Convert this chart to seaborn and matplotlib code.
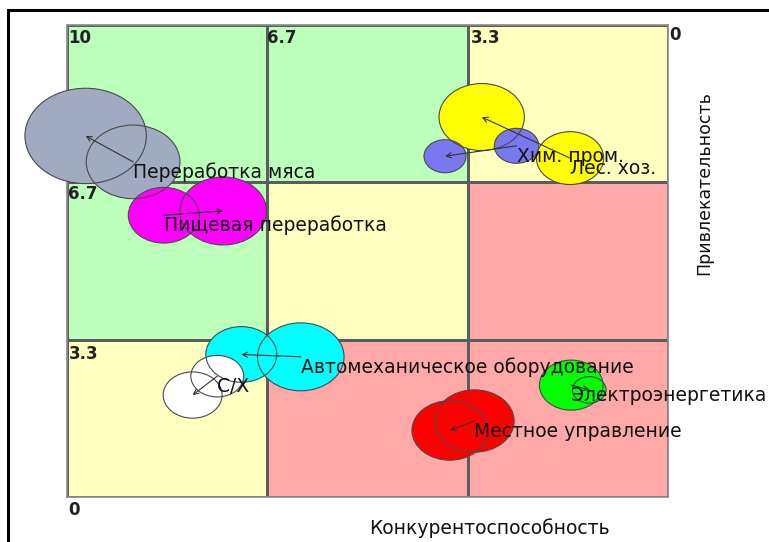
import numpy as np
import matplotlib
matplotlib.use('Agg')
import matplotlib.pyplot as plt
import seaborn as sns
from matplotlib.colors import ListedColormap
from matplotlib.patches import Ellipse, Rectangle

sns.set_style('white')
plt.rcParams['font.family'] = ['DejaVu Sans']

# zone grid (rows top->bottom, cols left->right): 0 = green, 1 = yellow, 2 = red
zones = [[0, 0, 1],
         [0, 1, 2],
         [1, 2, 2]]
zone_colors = ['#BBFFBB', '#FFFFC0', '#FFA8A8']

x_ticks = [10, 6.7, 3.3]
x_tick_labels = ['10', '6.7', '3.3']
y_ticks = [6.7, 3.3, 0]
y_tick_labels = ['6.7', '3.3', '0']

industries = ['Переработка мяса', 'Пищевая переработка', 'Лес. хоз.', 'Хим. пром.',
              'Автомеханическое оборудование', 'С/Х', 'Местное управление',
              'Электроэнергетика']
colors = ['#A0AAC0', '#FF00FF', '#FFFF00', '#7878F0',
          '#00FFFF', '#FFFFFF', '#FF0000', '#00FF00']
# start of arrow (label sits here)
x_from = [8.90, 8.39, 1.63, 2.52, 6.11, 7.50, 3.22, 1.61]
y_from = [7.10, 5.97, 7.18, 7.44, 2.97, 2.56, 1.61, 2.37]
r_from = [0.78, 0.59, 0.56, 0.37, 0.72, 0.44, 0.66, 0.53]
# end of arrow
x_to = [9.69, 7.40, 3.10, 3.71, 7.10, 7.91, 3.63, 1.31]
y_to = [7.65, 6.06, 8.05, 7.22, 3.02, 2.16, 1.41, 2.27]
r_to = [1.01, 0.72, 0.71, 0.35, 0.59, 0.49, 0.63, 0.28]

LABEL_FS = 13.5

fig = plt.figure(figsize=(7.69, 5.42), dpi=100)
pos = [67 / 769, 45 / 542, 601 / 769, 472 / 542]

# background zones
bg = fig.add_axes(pos)
sns.heatmap(zones, cmap=ListedColormap(zone_colors), vmin=0, vmax=2, cbar=False,
            linewidths=0.8, linecolor='#5C5C5C', xticklabels=False, yticklabels=False, ax=bg)
for s in bg.spines.values():
    s.set_visible(True)
    s.set_color('#8A8A8A')
    s.set_linewidth(1.2)

# bubbles
ax = fig.add_axes(pos)
ax.set_facecolor('none')
ax.set_xlim(10, 0)
ax.set_ylim(0, 10)
ax.axis('off')

for name, c, xf, yf, rf, xt, yt, rt in zip(industries, colors, x_from, y_from, r_from,
                                           x_to, y_to, r_to):
    for xx, yy, rr in [(xf, yf, rf), (xt, yt, rt)]:
        ax.add_patch(Ellipse((xx, yy), 2 * rr, 2 * rr, facecolor=c, edgecolor='none',
                             zorder=2, clip_on=False))
        ax.add_patch(Ellipse((xx, yy), 2 * rr, 2 * rr, facecolor='none',
                             edgecolor='#4A4A4A', lw=0.8, zorder=3, clip_on=False))
    ax.annotate('', xy=(xt, yt), xytext=(xf, yf),
                arrowprops=dict(arrowstyle='->', color='#333333', lw=0.8,
                                shrinkA=0, shrinkB=0, mutation_scale=9), zorder=4)
    ax.annotate(name, xy=(xf, yf), xytext=(0, -7.5), textcoords='offset points',
                ha='left', va='center', fontsize=LABEL_FS, color='#111111', zorder=5)

# scale labels
for v, t in zip(x_ticks, x_tick_labels):
    ax.annotate(t, xy=(v, 10), xytext=(1, -3), textcoords='offset points',
                ha='left', va='top', fontsize=12, fontweight='bold', color='#222222', zorder=5)
ax.annotate('0', xy=(0, 10), xytext=(1, -1), textcoords='offset points',
            ha='left', va='top', fontsize=12, fontweight='bold', color='#222222',
            zorder=5, annotation_clip=False)
for v, t in zip(y_ticks, y_tick_labels):
    ax.annotate(t, xy=(10, v), xytext=(1, -3), textcoords='offset points',
                ha='left', va='top', fontsize=12, fontweight='bold', color='#222222',
                zorder=5, annotation_clip=False)

fig.text(489 / 769, 1 - 528 / 542, 'Конкурентоспособность', ha='center', va='center',
         fontsize=LABEL_FS, color='#111111')
fig.text(704 / 769, 1 - 183 / 542, 'Привлекательность', ha='center', va='center',
         rotation=90, fontsize=12.5, color='#111111')

# outer frame
fig.add_artist(Rectangle((8 / 769, -0.1), 2, 1 - 10 / 542 + 0.1, transform=fig.transFigure,
                         fill=False, edgecolor='black', lw=2.2))

fig.savefig('out.png', dpi=100)
